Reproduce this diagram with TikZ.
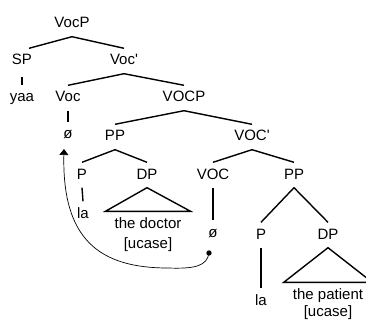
\documentclass[tikz,border=0pt]{standalone}
\usepackage{fontspec}
\newfontfamily\lsans{Liberation Sans}
\usetikzlibrary{arrows.meta}
\begin{document}
\begin{tikzpicture}[x=1pt,y=-1pt,
  lbl/.style={anchor=base, font=\lsans\fontsize{15}{18}\selectfont, text height=11pt, text depth=3pt, inner xsep=0pt, inner ysep=5.5pt},
  br/.style={line width=1.4pt},
  mv/.style={line width=0.7pt}]
\useasboundingbox (0,0) rectangle (366,320);
\node[lbl] (vocp) at (72,28) {VocP};
\node[lbl] (sp) at (22,65) {SP};
\node[lbl] (vocb) at (124,65) {Voc'};
\node[lbl] (yaa) at (22,102) {yaa};
\node[lbl] (voc) at (68,102) {Voc};
\node[lbl] (vocp2) at (184,102) {VOCP};
\node[lbl] (z1) at (68,139) {ø};
\node[lbl] (pp1) at (115,141) {PP};
\node[lbl] (vocb2) at (252,141) {VOC'};
\node[lbl] (p1) at (82,179) {P};
\node[lbl] (dp1) at (147,179) {DP};
\node[lbl] (voc2) at (213,179) {VOC};
\node[lbl] (pp2) at (294,179) {PP};
\node[lbl] (la1) at (83,218) {la};
\node[lbl] (doc) at (148,228) {the doctor};
\node[lbl] (uc1) at (148,248) {[ucase]};
\node[lbl] (z2) at (213,237) {ø};
\node[lbl] (p2) at (261,239) {P};
\node[lbl] (dp2) at (328,239) {DP};
\node[lbl] (la2) at (261,305) {la};
\node[lbl] (pat) at (328,299) {the patient};
\node[lbl] (uc2) at (328,316) {[ucase]};
% branches
\draw[br] (vocp.south) -- ([xshift=7pt]sp.north);
\draw[br] (vocp.south) -- (vocb.north);
\draw[br] ([yshift=-3pt]sp.south) -- (yaa.north);
\draw[br] (vocb.south) -- (voc.north);
\draw[br] (vocb.south) -- (vocp2.north);
\draw[br] (voc.south) -- (z1.north);
\draw[br] (vocp2.south) -- (pp1.north);
\draw[br] (vocp2.south) -- (vocb2.north);
\draw[br] (pp1.south) -- (p1.north);
\draw[br] (pp1.south) -- (dp1.north);
\draw[br] (vocb2.south) -- (voc2.north);
\draw[br] (vocb2.south) -- (pp2.north);
\draw[br] (p1.south) -- (la1.north);
\draw[br] (voc2.south) -- (z2.north);
\draw[br] (pp2.south) -- (p2.north);
\draw[br] (pp2.south) -- (dp2.north);
\draw[br] (p2.south) -- (la2.north);
\draw[br] (dp1.south) -- ([xshift=-9pt]doc.north west) -- ([xshift=9pt]doc.north east) -- cycle;
\draw[br] (dp2.south) -- ([xshift=-9pt]pat.north west) -- ([xshift=9pt]pat.north east) -- cycle;
% movement arrow
\coordinate (dotc) at (209,253);
\coordinate (tip) at (64,149);
\fill (dotc) circle (2.7pt);
\draw[mv,-{Triangle[width=9pt,length=6pt]}] (dotc) .. controls (207,266) and (195,269) .. (168,268) .. controls (100,268) and (62,240) .. (tip);
\end{tikzpicture}
\end{document}
